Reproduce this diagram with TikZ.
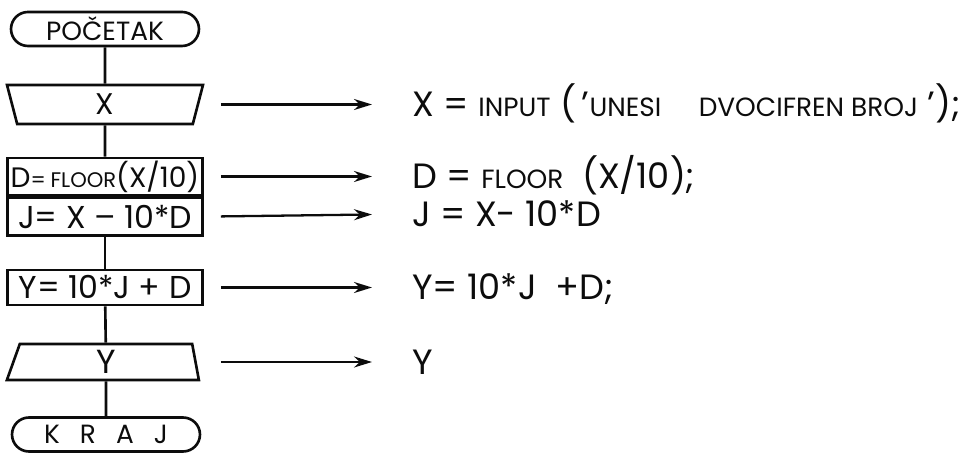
\documentclass[tikz,border=0pt]{standalone}
\usepackage{fontspec}
\setmainfont{Poppins}
\usepackage{tikz}
\usetikzlibrary{shapes.misc,shapes.geometric,arrows.meta,positioning}
\definecolor{inkblack}{RGB}{12, 12, 12}
\newcommand{\kw}[1]{{\fontsize{15}{17}\selectfont #1}}
\newcommand{\kwb}[1]{{\fontsize{12}{14}\selectfont #1}}

\begin{document}
\begin{tikzpicture}[x=0.02cm, y=-0.02cm, line width=1.5pt, inkblack,
    term/.style={rounded rectangle, draw, minimum width=3.76cm, minimum height=0.68cm, inner sep=0pt, font=\fontsize{15}{17}\selectfont},
    inshape/.style={trapezium, draw, shape border rotate=180, trapezium stretches body, trapezium left angle=64, trapezium right angle=64, minimum width=3.92cm, minimum height=0.78cm, inner sep=0pt, font=\fontsize{17}{19}\selectfont},
    outshape/.style={trapezium, draw, trapezium stretches body, trapezium left angle=61, trapezium right angle=74, minimum width=3.84cm, minimum height=0.72cm, inner sep=0pt, font=\fontsize{19}{21}\selectfont},
    stepbox/.style={rectangle, draw, minimum width=3.9cm, inner sep=0pt, font=\fontsize{18}{20}\selectfont},
    code/.style={anchor=west, inner sep=0pt, text height=0.5cm, text depth=0pt, font=\fontsize{20}{24}\selectfont},
    flow/.style={-{Stealth[length=0.36cm, width=0.22cm]}, line width=1.3pt, shorten <=0.34cm, shorten >=0.78cm}]
    \useasboundingbox (0,0) rectangle (979,455);

    % flowchart
    \node[term] (start) at (105,29) {POČETAK};
    \node[inshape] (inX) at (105,104.5) {X};
    \node[stepbox, minimum height=0.74cm, font=\fontsize{16}{18}\selectfont] (floor) at (105,176.5) {D\kwb{=}\,\kwb{FLOOR}(X/10)};
    \node[stepbox, minimum height=0.76cm, below=0pt of floor] (jbox) {J= X -- 10*D};
    \node[stepbox, minimum height=0.7cm] (ybox) at (105,287.5) {Y= 10*J + D};
    \node[outshape] (outY) at (106,362) {Y};
    \node[term] (stop) at (106,434.5) {K\hspace{.4cm}R\hspace{.4cm}A\hspace{.4cm}J};

    \draw (start) -- (inX);
    \draw (inX) -- (floor);
    \draw (jbox) -- (ybox);
    \draw (ybox) -- (outY);
    \draw (outY) -- (stop);

    % program text
    \node[code] (txX) at (411,104.5) {X = \kw{INPUT} (\,'\kw{UNESI}\hspace{.75cm}\kw{DVOCIFREN BROJ}\ ');};
    \node[code] (txD) at (411,176.5) {D = \kw{FLOOR}\ \ (X/10);};
    \node[code] (txJ) at (411,214) {J = X- 10*D};
    \node[code] (txY) at (411,287.5) {Y= 10*J\ \ +D;};
    \node[code] (txOut) at (411,362) {Y};

    \draw[flow] (inX -| floor.east) -- (txX.west);
    \draw[flow] (floor.east) -- (txD.west);
    \draw[flow] (jbox.east) -- (txJ.west);
    \draw[flow] (ybox.east) -- (txY.west);
    \draw[flow] (outY -| ybox.east) -- (txOut.west);
\end{tikzpicture}
\end{document}
